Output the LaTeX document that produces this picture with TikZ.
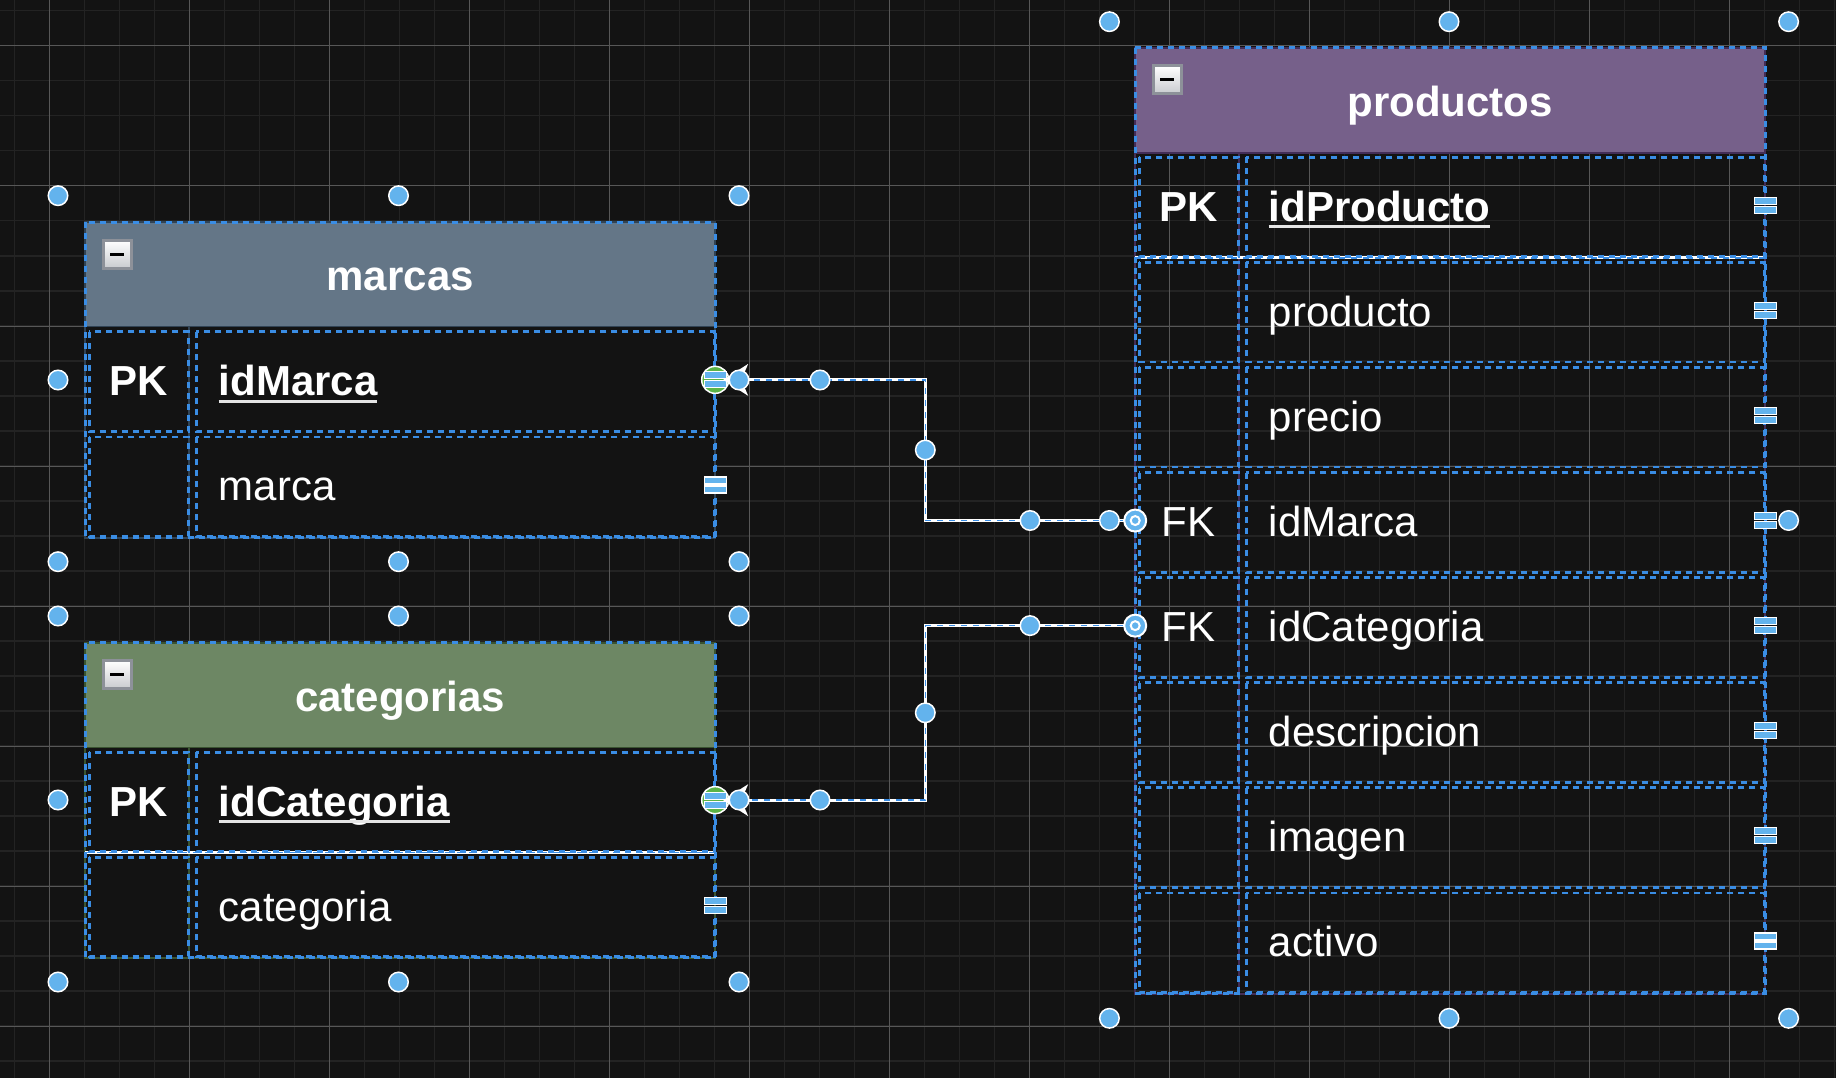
\documentclass[tikz,border=0pt]{standalone}
\usepackage{fontspec}
\setmainfont{Liberation Sans}
\definecolor{bg}{HTML}{131313}
\definecolor{gridminor}{HTML}{232323}
\definecolor{gridmajor}{HTML}{575757}
\definecolor{selblue}{HTML}{3A8DE4}
\definecolor{hdlblue}{HTML}{63B3ED}
\definecolor{endgreen}{HTML}{5BB346}
\definecolor{iconline}{HTML}{8D9199}
\definecolor{iconlow}{HTML}{C9CBCF}
\definecolor{slatefill}{HTML}{647687}
\definecolor{slateline}{HTML}{314354}
\definecolor{greenfill}{HTML}{6D8764}
\definecolor{greenline}{HTML}{3A5431}
\definecolor{purplefill}{HTML}{76608A}
\definecolor{purpleline}{HTML}{432D57}
\tikzset{eqmark/.pic={
  \draw[fill=hdlblue, draw=white, line width=1.2pt] (-11pt,1pt) rectangle (11pt,8pt) (-11pt,-1pt) rectangle (11pt,-8pt);}}
\begin{document}
\begin{tikzpicture}[x=1pt,y=-1pt,
    font=\fontsize{42}{48}\selectfont,
    minor/.style={draw=gridminor, line width=1.6pt},
    major/.style={draw=gridmajor, line width=1pt},
    hdr/.style 2 args={anchor=north west, fill=#1, draw=#2, line width=2pt, outer sep=0pt,
      minimum width=630pt, minimum height=105pt, inner sep=0pt, text=white,
      text height=36pt, text depth=4pt, font=\fontsize{42}{48}\selectfont\bfseries},
    row/.style={anchor=north west, minimum width=630pt, minimum height=105.1pt, inner sep=0pt, outer sep=0pt},
    key/.style={text=white, text height=36pt, text depth=4pt, inner sep=0pt, outer sep=0pt},
    field/.style={key, anchor=west},
    bold/.style={font=\fontsize{42}{48}\selectfont\bfseries},
    frame/.style={draw=#1, line width=2pt},
    sel/.style={draw=selblue, line width=2.8pt, dash pattern=on 6pt off 5pt},
    link/.style={draw=white, line width=3pt, postaction={draw=selblue, line width=1.5pt, dash pattern=on 6pt off 6pt}},
    pkline/.style={draw=white!90!black, line width=3pt},
    minus/.style={draw=iconline, line width=3pt, top color=white, bottom color=iconlow, minimum size=28pt, inner sep=0pt,
      path picture={\fill[black] ([shift={(-7pt,-1.8pt)}]path picture bounding box.center) rectangle ([shift={(7pt,1.8pt)}]path picture bounding box.center);}},
    endpt/.style={circle, fill=endgreen, draw=white, line width=1.5pt, minimum size=27pt, inner sep=0pt},
    target/.style={circle, fill=hdlblue, draw=white, line width=2pt, minimum size=22pt, inner sep=0pt,
      path picture={\draw[white, line width=2pt] (path picture bounding box.center) circle (4.5pt);}},
    handle/.style={circle, fill=hdlblue, draw=white, line width=1.5pt, minimum size=19.5pt, inner sep=0pt}]
  \fill[bg] (0,0) rectangle (1836,1078);
  \useasboundingbox (0,0) rectangle (1836,1078);
  \foreach \x in {14.3,49.3,...,1836} \draw[minor] (\x,0) -- (\x,1078);
  \foreach \y in {10.7,45.7,...,1078} \draw[minor] (0,\y) -- (1836,\y);
  \foreach \x in {49.3,189.3,...,1836} \draw[major] (\x,0) -- (\x,1078);
  \foreach \y in {46,186,...,1078} \draw[major] (0,\y) -- (1836,\y);

  \node[hdr={slatefill}{slateline}] (marcas) at (85.2,222.3) {marcas};
  \node[row, fill=bg] (mr1) at (marcas.south west) {};
  \node[row, fill=bg] (mr2) at (mr1.south west) {};
  \node[key, bold] (mk1) at ([xshift=53.5pt]mr1.west) {PK};
  \node[field, bold] (mf1) at ([xshift=133.5pt]mr1.west) {idMarca};
  \node[field] (mf2) at ([xshift=133.5pt]mr2.west) {marca};
  \draw[pkline] ([yshift=-1.5pt]mf1.south west) -- ([yshift=-1.5pt]mf1.south east);
  \draw[frame=slateline] (marcas.north west) rectangle (mr2.south east);
  \draw[frame=slateline] ([xshift=104pt]mr1.north west) -- ([xshift=104pt]mr2.south west);
  \node[minus] (mmin) at ([shift={(32pt,-32pt)}]marcas.north west) {};

  \node[hdr={greenfill}{greenline}] (categorias) at (85.2,642.6) {categorias};
  \node[row, fill=bg] (cr1) at (categorias.south west) {};
  \node[row, fill=bg] (cr2) at (cr1.south west) {};
  \node[key, bold] (ck1) at ([xshift=53.5pt]cr1.west) {PK};
  \node[field, bold] (cf1) at ([xshift=133.5pt]cr1.west) {idCategoria};
  \node[field] (cf2) at ([xshift=133.5pt]cr2.west) {categoria};
  \draw[pkline] ([yshift=-1.5pt]cf1.south west) -- ([yshift=-1.5pt]cf1.south east);
  \draw[frame=greenline] (categorias.north west) rectangle (cr2.south east);
  \draw[frame=greenline] ([xshift=104pt]cr1.north west) -- ([xshift=104pt]cr2.south west);
  \node[minus] (cmin) at ([shift={(32pt,-32pt)}]categorias.north west) {};

  \node[hdr={purplefill}{purpleline}] (productos) at (1135.2,47.7) {productos};
  \node[row] (pr1) at (productos.south west) {};
  \node[key, bold] (pk1) at ([xshift=53.5pt]pr1.west) {PK};
  \node[field, bold] (pf1) at ([xshift=133.5pt]pr1.west) {idProducto};
  \draw[pkline] ([yshift=-1.5pt]pf1.south west) -- ([yshift=-1.5pt]pf1.south east);
  \foreach \k/\f [count=\i from 2] in {/producto,/precio,FK/idMarca,FK/idCategoria,/descripcion,/imagen,/activo} {
    \node[row] (pr\i) at (1135.2,{152.7+105.1*(\i-1)}) {};
    \node[key] (pk\i) at ([xshift=53.5pt]pr\i.west) {\k};
    \node[field] (pf\i) at ([xshift=133.5pt]pr\i.west) {\f};
  }
  \draw[frame=purpleline] (productos.north west) rectangle (pr8.south east);
  \draw[frame=purpleline] ([xshift=104pt]pr1.north west) -- ([xshift=104pt]pr8.south west);
  \node[minus] (pmin) at ([shift={(32pt,-32pt)}]productos.north west) {};

  \draw[link] (pr1.south west) -- (pr1.south east);
  \draw[link] (cr1.south west) -- (cr1.south east);
  \foreach \t/\r in {marcas/mr2,categorias/cr2,productos/pr8}
    \draw[sel] (\t.north west) rectangle (\r.south east);
  \foreach \r in {mr1,mr2,cr1,cr2,pr1,pr2,pr3,pr4,pr5,pr6,pr7,pr8} {
    \draw[sel] ([shift={(4pt,-4.5pt)}]\r.north west) rectangle ([shift={(103pt,1pt)}]\r.south west);
    \draw[sel] ([shift={(111pt,-4.5pt)}]\r.north west) rectangle ([shift={(-1pt,1pt)}]\r.south east);
  }

  \coordinate (jog) at (925.3,0);
  \draw[link] (pr4.west) -- (pr4.west -| jog) |- (mr1.east);
  \draw[link] (pr5.west) -- (pr5.west -| jog) |- (cr1.east);

  \node[endpt] (gm) at (mr1.east) {};
  \node[endpt] (gc) at (cr1.east) {};
  \foreach \r in {mr1,mr2,cr1,cr2,pr1,pr2,pr3,pr4,pr5,pr6,pr7,pr8}
    \pic at (\r.east) {eqmark};
  \fill[white] (mr1.east) ++(8pt,0pt) -- ++(25pt,16pt) -- ++(-7pt,-16pt) -- ++(7pt,-16pt) -- cycle;
  \fill[white] (cr1.east) ++(8pt,0pt) -- ++(25pt,16pt) -- ++(-7pt,-16pt) -- ++(7pt,-16pt) -- cycle;
  \node[target] (tm) at (pr4.west) {};
  \node[target] (tc) at (pr5.west) {};

  \foreach \x/\y [count=\i] in {58/195.7,398.5/195.7,739/195.7,58/380,739/380,58/561.7,398.5/561.7,739/561.7,
      58/616,398.5/616,739/616,58/800,739/800,58/982,398.5/982,739/982,
      1109.4/21.7,1449/21.7,1788.6/21.7,1109.4/520.5,1788.6/520.5,1109.4/1018.3,1449/1018.3,1788.6/1018.3,
      1030/520.5,925.3/450,820/380,1030/625.6,925.3/712.8,820/800}
    \node[handle] (h\i) at (\x,\y) {};
\end{tikzpicture}
\end{document}
